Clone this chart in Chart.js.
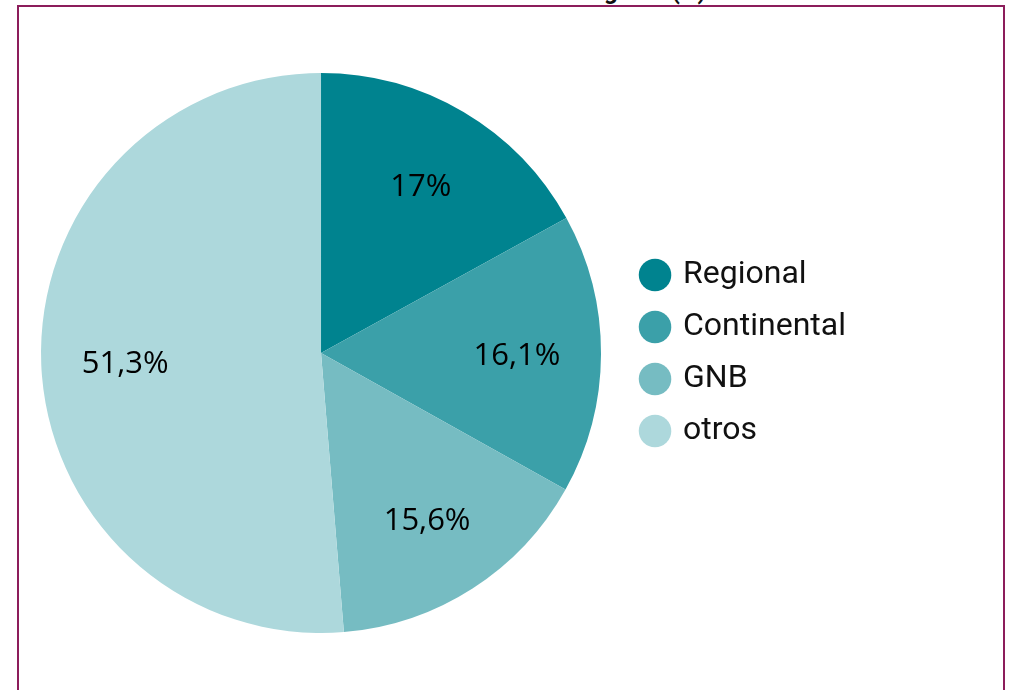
<!DOCTYPE html>
<html>
<head>
<meta charset="utf-8">
<script src="https://cdn.jsdelivr.net/npm/chart.js@4.4.0/dist/chart.umd.min.js"></script>
<style>
  html, body { margin:0; padding:0; background:#ffffff; width:1012px; height:690px; overflow:hidden; }
  #wrap { position:relative; width:1012px; height:690px; }
  #title { position:absolute; right:306px; top:-24px; height:30px; line-height:30px; font-family:Roboto, sans-serif; font-weight:bold; font-size:24px; color:#111; white-space:nowrap; }
  #frame { position:absolute; left:17px; top:5px; width:988px; height:800px; box-sizing:border-box; border:2px solid #8C1D5B; pointer-events:none; }
  canvas { position:absolute; left:0; top:0; }
</style>
</head>
<body>
<div id="wrap">
  <div id="title">Cuota de mercado en seguros (%)</div>
  <canvas id="c" width="1012" height="690"></canvas>
  <div id="frame"></div>
</div>
<script>
const categories = ['Regional', 'Continental', 'GNB', 'otros'];
const shares = [17, 16.1, 15.6, 51.3];
const sliceColors = ['#00838F', '#3BA0A9', '#76BCC2', '#ADD8DC'];

function fmt(v) { return String(v).replace('.', ',') + '%'; }

const sliceLabels = {
  id: 'sliceLabels',
  afterDatasetsDraw(chart) {
    const ctx = chart.ctx;
    const meta = chart.getDatasetMeta(0);
    ctx.save();
    ctx.font = '31px "Open Sans", sans-serif';
    ctx.fillStyle = '#000000';
    ctx.textAlign = 'center';
    ctx.textBaseline = 'middle';
    meta.data.forEach((arc, i) => {
      const p = arc.getProps(['x', 'y', 'startAngle', 'endAngle', 'outerRadius'], true);
      const mid = (p.startAngle + p.endAngle) / 2;
      const r = p.outerRadius * 0.7;
      ctx.fillText(fmt(shares[i]), p.x + Math.cos(mid) * r, p.y + Math.sin(mid) * r + 3);
    });
    ctx.restore();
  }
};

new Chart(document.getElementById('c'), {
  type: 'pie',
  data: {
    labels: categories,
    datasets: [{
      data: shares,
      backgroundColor: sliceColors,
      borderWidth: 0,
      hoverOffset: 0
    }]
  },
  options: {
    responsive: false,
    animation: false,
    devicePixelRatio: 1,
    layout: { padding: { left: 19, top: 73, bottom: 57, right: 156 } },
    plugins: {
      title: { display: false },
      tooltip: { enabled: false },
      legend: {
        position: 'right',
        align: 'center',
        labels: {
          usePointStyle: true,
          pointStyle: 'circle',
          boxWidth: 24,
          boxHeight: 23,
          padding: 20,
          color: '#111111',
          font: { family: 'Roboto', size: 32 }
        }
      }
    }
  },
  plugins: [sliceLabels]
});
</script>
</body>
</html>
